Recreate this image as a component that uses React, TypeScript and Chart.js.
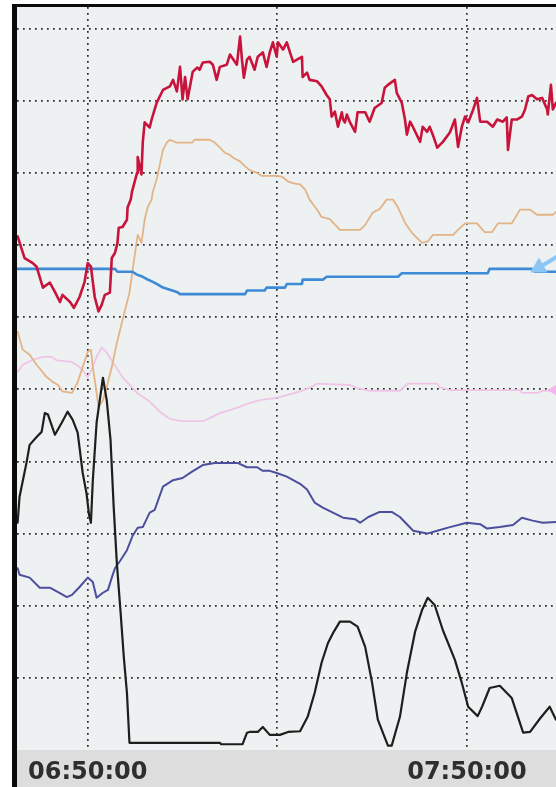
import React, { useEffect, useRef } from "react";
import { Chart, registerables } from "chart.js";

Chart.register(...registerables);

// time axis: minutes after 06:00
const xMin = 38.8;
const xMax = 124.1;
const xGridTicks = [50, 80, 110];
const xLabelTicks = [50, 110];
const yMin = 0;
const yMax = 103;
const yGridTicks = [10, 20, 30, 40, 50, 60, 70, 80, 90, 100];

const redLine: [number, number][] = [
  [38.9, 71.2], [40.0, 68.2], [41.3, 67.5], [41.9, 67.0], [42.9, 64.1], [44.0, 64.8], [44.8, 63.5], [45.6, 62.1],
  [46.0, 63.1], [47.2, 62.1], [47.8, 61.3], [48.7, 62.8], [49.5, 64.9], [50.0, 67.5], [50.5, 67.0], [51.1, 62.8],
  [51.7, 60.8], [52.2, 61.7], [52.7, 63.1], [53.5, 63.4], [53.8, 68.2], [54.3, 68.9], [54.7, 70.3], [54.9, 72.4],
  [55.5, 72.5], [56.2, 73.5], [56.3, 75.2], [56.8, 76.3], [57.0, 77.4], [57.8, 80.0], [57.9, 82.2], [58.5, 79.8],
  [58.7, 84.2], [59.0, 87.0], [59.8, 86.3], [60.1, 87.4], [60.9, 89.7], [61.9, 91.5], [63.0, 92.0], [63.5, 92.9],
  [64.1, 91.3], [64.6, 94.7], [65.0, 90.2], [65.4, 93.3], [65.8, 90.2], [66.6, 94.0], [67.3, 94.6], [67.7, 94.3],
  [68.2, 95.3], [69.3, 95.4], [69.8, 95.0], [70.4, 92.9], [70.9, 94.7], [72.0, 95.0], [72.5, 96.4], [73.6, 95.0],
  [74.1, 98.9], [74.4, 95.7], [74.7, 93.2], [75.2, 95.7], [75.6, 96.1], [76.4, 94.3], [76.9, 96.1], [77.7, 96.7],
  [78.3, 94.7], [78.8, 96.7], [79.3, 98.1], [79.9, 96.1], [80.1, 98.1], [80.9, 97.1], [81.5, 98.1], [82.0, 96.7],
  [82.5, 95.4], [83.1, 95.7], [83.9, 96.1], [84.0, 93.3], [84.7, 93.9], [85.1, 92.9], [86.3, 92.7], [87.0, 92.0],
  [87.8, 90.8], [88.3, 90.2], [88.6, 87.8], [89.1, 88.5], [89.6, 86.4], [90.2, 88.4], [90.4, 87.4], [90.7, 87.0],
  [91.0, 88.1], [91.5, 87.0], [92.3, 85.7], [92.7, 88.4], [93.9, 88.4], [94.6, 87.1], [95.4, 89.0], [96.5, 89.7],
  [97.0, 91.8], [97.5, 92.2], [98.6, 92.9], [98.9, 91.1], [99.7, 89.7], [100.2, 87.4], [100.5, 85.3], [101.0, 87.1],
  [101.5, 86.3], [102.6, 84.3], [103.0, 86.4], [103.7, 85.7], [104.1, 86.4], [104.6, 85.3], [105.3, 83.5], [106.2, 84.3],
  [107.3, 85.6], [108.1, 87.4], [108.6, 83.6], [109.2, 86.4], [109.7, 87.8], [110.2, 87.0], [111.0, 88.8], [111.6, 90.4],
  [112.1, 87.1], [113.2, 87.1], [114.1, 86.4], [114.8, 87.4], [115.7, 87.1], [116.3, 87.7], [116.5, 83.2], [117.1, 87.4],
  [117.9, 87.4], [118.7, 87.8], [119.2, 88.8], [119.7, 90.6], [120.3, 90.8], [121.1, 90.2], [121.9, 90.4], [122.7, 88.8],
  [122.8, 88.1], [123.3, 92.2], [123.6, 88.8], [124.1, 89.7],
];

const tanLine: [number, number][] = [
  [38.9, 58.0], [39.7, 55.5], [40.8, 54.8], [41.9, 53.4], [43.5, 51.7], [44.5, 51.0], [45.3, 50.6], [46.0, 49.7],
  [47.5, 49.5], [48.4, 51.0], [49.2, 53.1], [50.0, 55.2], [50.5, 55.5], [50.8, 53.1], [51.4, 49.5], [51.7, 47.6],
  [52.4, 48.5], [53.0, 50.3], [53.8, 53.1], [54.6, 56.4], [55.5, 59.6], [56.6, 63.4], [57.4, 68.4], [57.9, 71.4],
  [58.5, 70.3], [59.0, 73.5], [59.5, 75.3], [60.1, 76.3], [60.3, 77.4], [60.9, 79.1], [61.9, 83.2], [62.5, 84.2],
  [63.0, 84.6], [64.1, 84.2], [66.5, 84.2], [66.9, 84.6], [69.3, 84.6], [70.1, 84.2], [70.9, 83.5], [71.7, 82.8],
  [72.5, 82.5], [73.0, 82.1], [74.1, 81.6], [74.9, 80.9], [75.6, 80.4], [76.8, 80.0], [77.5, 79.6], [79.9, 79.6],
  [80.7, 79.5], [81.7, 78.8], [82.8, 78.5], [83.6, 78.4], [84.4, 77.7], [85.1, 76.3], [86.3, 74.9], [87.0, 73.9],
  [88.3, 73.6], [89.9, 72.1], [93.1, 72.1], [93.9, 72.8], [95.1, 74.5], [96.2, 75.0], [97.3, 76.3], [98.3, 76.3],
  [99.1, 75.2], [100.2, 73.1], [101.3, 71.7], [102.9, 70.3], [103.8, 70.5], [104.6, 71.4], [107.8, 71.4], [108.6, 72.1],
  [109.7, 73.0], [111.6, 73.0], [112.8, 71.8], [114.0, 71.8], [114.9, 73.0], [117.1, 73.0], [118.4, 74.9], [120.0, 74.9],
  [121.1, 74.2], [123.6, 74.2], [124.1, 74.6],
];

const blueLine: [number, number][] = [
  [38.9, 66.7], [54.3, 66.7], [54.7, 66.3], [57.0, 66.3], [57.8, 65.9], [58.7, 65.6], [59.3, 65.3], [60.3, 64.9],
  [61.1, 64.5], [61.9, 64.1], [63.0, 63.8], [64.1, 63.5], [64.6, 63.2], [74.9, 63.2], [75.2, 63.7], [78.0, 63.7],
  [78.3, 64.1], [81.2, 64.1], [81.5, 64.6], [83.9, 64.6], [84.0, 65.2], [87.2, 65.2], [87.8, 65.6], [99.1, 65.6],
  [99.7, 66.1], [113.3, 66.1], [113.6, 66.7], [120.3, 66.7], [120.8, 66.3], [124.1, 66.3],
];

const pinkLine: [number, number][] = [
  [38.9, 52.4], [39.7, 53.4], [41.3, 54.1], [42.9, 54.5], [44.3, 54.5], [45.1, 54.0], [47.5, 53.8], [48.7, 53.1],
  [49.5, 52.3], [50.0, 51.7], [50.6, 52.7], [51.4, 54.5], [52.2, 55.8], [53.0, 55.1], [54.0, 53.7], [55.5, 51.7],
  [57.8, 49.5], [59.8, 48.3], [61.4, 46.9], [63.0, 45.9], [64.9, 45.6], [68.2, 45.6], [69.3, 46.0], [70.9, 46.7],
  [72.8, 47.2], [74.1, 47.6], [75.6, 48.1], [77.2, 48.5], [79.9, 48.8], [81.5, 49.2], [83.6, 49.7], [85.1, 50.2],
  [86.3, 50.8], [91.5, 50.6], [92.6, 50.2], [94.6, 49.8], [99.4, 49.8], [100.6, 50.8], [105.3, 50.8], [105.7, 50.3],
  [107.3, 49.9], [118.4, 49.9], [118.7, 49.5], [121.2, 49.5], [121.9, 49.8], [124.1, 49.8],
];

const navyLine: [number, number][] = [
  [38.9, 25.2], [39.2, 24.3], [40.8, 23.9], [42.4, 22.5], [44.0, 22.5], [45.3, 21.9], [46.7, 21.2], [47.5, 21.5],
  [48.7, 22.6], [50.0, 23.9], [50.8, 23.3], [51.4, 21.1], [52.4, 21.8], [53.2, 22.2], [53.8, 23.9], [54.3, 25.2],
  [55.1, 26.2], [56.2, 27.7], [57.1, 29.7], [57.9, 30.8], [58.7, 30.9], [59.8, 32.9], [60.6, 33.3], [61.9, 36.5],
  [63.5, 37.4], [65.0, 37.7], [66.5, 38.6], [68.2, 39.5], [70.1, 39.8], [73.7, 39.8], [75.2, 39.2], [76.8, 39.2],
  [77.7, 38.7], [78.8, 38.7], [79.9, 38.4], [81.5, 37.9], [83.6, 36.9], [84.7, 36.1], [85.9, 34.3], [87.2, 33.6],
  [88.8, 32.9], [90.4, 32.2], [92.3, 32.0], [93.1, 31.5], [94.4, 32.3], [96.2, 33.0], [98.1, 33.0], [99.4, 32.3],
  [101.5, 30.4], [103.7, 30.0], [105.3, 30.4], [107.3, 30.9], [110.0, 31.5], [112.1, 31.3], [113.2, 30.7], [115.2, 30.9],
  [117.3, 31.2], [118.7, 32.2], [120.4, 31.8], [122.0, 31.5], [124.1, 31.6],
];

const blackLine: [number, number][] = [
  [38.9, 31.5], [39.2, 35.1], [40.3, 39.8], [40.8, 42.3], [41.9, 43.4], [42.7, 44.1], [43.2, 46.7], [43.7, 46.5],
  [44.8, 43.7], [45.9, 45.4], [46.8, 46.9], [47.6, 45.8], [48.4, 44.0], [49.2, 38.4], [49.8, 35.6], [50.2, 32.6],
  [50.5, 31.5], [50.8, 37.4], [51.4, 45.4], [51.9, 48.5], [52.4, 51.6], [53.0, 48.5], [53.6, 43.0], [54.1, 33.7],
  [54.6, 25.9], [55.2, 19.0], [55.7, 12.9], [56.2, 7.9], [56.6, 1.0], [70.9, 1.0], [71.1, 0.8], [74.5, 0.8],
  [75.2, 2.4], [75.6, 2.5], [76.9, 2.5], [77.7, 3.2], [78.8, 2.1], [80.4, 2.1], [81.7, 2.5], [83.6, 2.6],
  [84.8, 4.6], [85.9, 7.9], [87.0, 12.1], [88.0, 14.8], [88.8, 16.2], [89.9, 17.8], [91.5, 17.8], [92.7, 17.1],
  [93.9, 14.3], [95.0, 9.3], [95.9, 4.2], [97.5, 0.6], [98.1, 0.6], [99.4, 4.6], [100.5, 10.7], [101.8, 16.4],
  [102.9, 19.4], [103.8, 21.1], [104.9, 20.1], [106.2, 16.6], [108.1, 12.5], [109.2, 9.3], [110.2, 6.0], [111.7, 4.7],
  [112.4, 6.0], [113.6, 8.6], [115.2, 8.9], [117.1, 7.2], [118.9, 2.4], [120.0, 2.5], [121.6, 4.4], [123.1, 6.0],
  [124.1, 4.2],
];

const blueArrow: [number, number][] = [[124.3, 68.4], [121.4, 66.9]];
const pinkMarker: [number, number][] = [[123.8, 49.9]];

const toPts = (arr: [number, number][]) => arr.map(([x, y]) => ({ x, y }));

function fmtTime(m: number): string {
  const h = Math.floor(m / 60) + 6;
  const mm = Math.round(m % 60);
  return `${String(h).padStart(2, "0")}:${String(mm).padStart(2, "0")}:00`;
}

const framePlugin = {
  id: "frame",
  beforeDraw(chart: any) {
    const { ctx, chartArea, width, height } = chart;
    ctx.save();
    ctx.fillStyle = "#dcdddc";
    ctx.fillRect(0, 0, width, height);
    ctx.fillStyle = "#eef1f1";
    ctx.fillRect(chartArea.left, chartArea.top, chartArea.right - chartArea.left, chartArea.bottom - chartArea.top);
    ctx.fillStyle = "#0a0a0a";
    ctx.fillRect(0, 0, 5, height);
    ctx.fillRect(0, 0, width, 3);
    ctx.restore();
  },
};

export default function App() {
  const ref = useRef<HTMLCanvasElement | null>(null);
  useEffect(() => {
    if (!ref.current) return;
    const line = (data: [number, number][], color: string, width: number) => ({
      data: toPts(data),
      borderColor: color,
      backgroundColor: color,
      borderWidth: width,
      pointRadius: 0,
      tension: 0,
      borderJoinStyle: "round" as const,
      borderCapStyle: "round" as const,
    });
    const chart = new Chart(ref.current, {
      type: "line",
      data: {
        datasets: [
          line(redLine, "#c8143c", 2.6),
          line(blackLine, "#1e1e1e", 2.2),
          {
            ...line(blueArrow, "#8cc6f6", 4),
            pointRadius: [0, 6],
            pointStyle: "triangle",
            rotation: 240,
          } as any,
          {
            ...line(pinkMarker, "#f6b4ee", 0),
            pointRadius: 7,
            pointStyle: "triangle",
            rotation: 270,
            showLine: false,
          } as any,
          line(blueLine, "#3d8ad6", 2.6),
          line(navyLine, "#4b4f9e", 2),
          line(tanLine, "#e2b487", 1.8),
          line(pinkLine, "#f0c4e6", 1.8),
        ],
      },
      options: {
        animation: false,
        responsive: false,
        maintainAspectRatio: false,
        devicePixelRatio: 1,
        layout: { autoPadding: false, padding: { left: 5, top: 3, right: 0, bottom: 0 } },
        plugins: { legend: { display: false }, tooltip: { enabled: false } },
        scales: {
          x: {
            type: "linear",
            min: xMin,
            max: xMax,
            afterBuildTicks: (s: any) => {
              s.ticks = xGridTicks.map((v) => ({ value: v }));
            },
            afterFit: (s: any) => {
              s.height = 37;
              s.paddingLeft = 0;
              s.paddingRight = 0;
            },
            ticks: {
              autoSkip: false,
              maxRotation: 0,
              padding: 8,
              color: "#2e2e2e",
              font: { family: "DejaVu Sans", size: 24, weight: "bold" },
              callback: (v: any) => (xLabelTicks.includes(Number(v)) ? fmtTime(Number(v)) : ""),
            },
            grid: { drawTicks: false, color: "#2a2a2a", lineWidth: 1.7 },
            border: { display: false, dash: [1.7, 4.3] },
          },
          y: {
            type: "linear",
            min: yMin,
            max: yMax,
            afterBuildTicks: (s: any) => {
              s.ticks = yGridTicks.map((v) => ({ value: v }));
            },
            afterFit: (s: any) => {
              s.width = 0;
              s.paddingTop = 0;
              s.paddingBottom = 0;
            },
            ticks: { display: false },
            grid: { drawTicks: false, color: "#2a2a2a", lineWidth: 1.7 },
            border: { display: false, dash: [1.7, 4.3] },
          },
        },
      },
      plugins: [framePlugin],
    });
    return () => chart.destroy();
  }, []);
  return (
    <div style={{ position: "fixed", left: 0, top: 0, width: 556, height: 787, background: "#ffffff", overflow: "hidden" }}>
      <canvas ref={ref} width={544} height={783} style={{ position: "absolute", left: 12, top: 4, width: 544, height: 783 }} />
    </div>
  );
}
